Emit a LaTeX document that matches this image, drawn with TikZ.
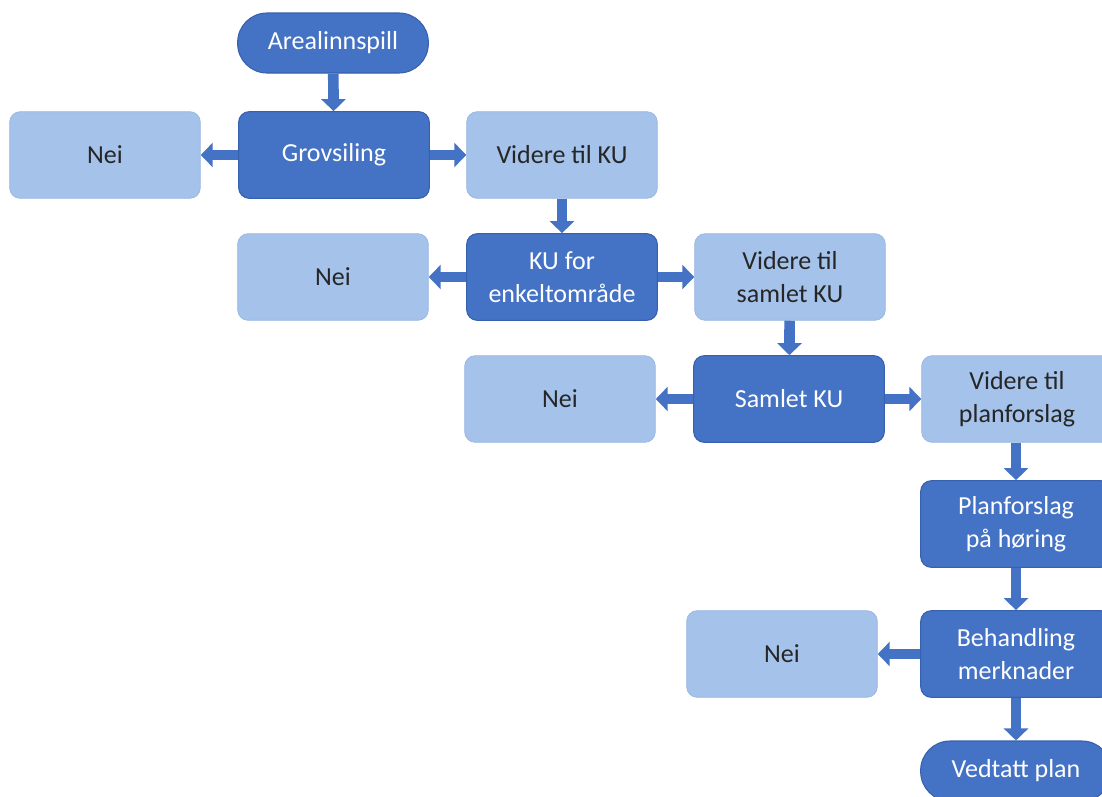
\documentclass[tikz,border=0pt]{standalone}
\usepackage{fontspec}
\setmainfont{Carlito}
\usetikzlibrary{arrows.meta}
\definecolor{dkblue}{HTML}{4472C4}
\definecolor{dkedge}{HTML}{3760AE}
\definecolor{ltblue}{HTML}{A4C2EA}
\definecolor{ltedge}{HTML}{9AB8E2}
\begin{document}
\begin{tikzpicture}[x=0.75pt,y=-0.75pt,
  box/.style={rounded corners=8pt,minimum width=143pt,minimum height=65pt,inner sep=0pt,align=center,font=\fontsize{19.5}{25}\selectfont},
  dark/.style={box,fill=dkblue,draw=dkedge,line width=0.8pt,text=white},
  light/.style={box,fill=ltblue,draw=ltedge,line width=0.6pt,text=black!85},
  pill/.style={dark,rounded corners=22pt,minimum height=45pt},
  flow/.style={draw=dkblue,line width=8pt,-{Triangle[width=18pt,length=9pt]}}]
\useasboundingbox (0,0) rectangle (1102,796);
\node[pill] (a) at (333,43) {Arealinnspill};
\node[dark] (g) at (334,155) {Grovsiling};
\node[light] (n1) at (105,155) {Nei};
\node[light] (v1) at (562,155) {Videre til KU};
\node[dark] (k) at (562,277) {KU for\\enkeltområde};
\node[light] (n2) at (333,277) {Nei};
\node[light] (v2) at (790,277) {Videre til\\samlet KU};
\node[dark] (s) at (789,399) {Samlet KU};
\node[light] (n3) at (560,399) {Nei};
\node[light] (v3) at (1017,399) {Videre til\\planforslag};
\node[dark] (p) at (1016,524) {Planforslag\\på høring};
\node[dark] (b) at (1016,654) {Behandling\\merknader};
\node[light] (n4) at (782,654) {Nei};
\node[pill] (e) at (1016,771) {Vedtatt plan};
\draw[flow] (a) -- (g);
\draw[flow] (g) -- (n1);
\draw[flow] (g) -- (v1);
\draw[flow] (v1) -- (k);
\draw[flow] (k) -- (n2);
\draw[flow] (k) -- (v2);
\draw[flow] (v2) -- (s);
\draw[flow] (s) -- (n3);
\draw[flow] (s) -- (v3);
\draw[flow] (v3.south -| p.north) -- (p);
\draw[flow] (p) -- (b);
\draw[flow] (b) -- (n4);
\draw[flow] (b) -- (e);
\end{tikzpicture}
\end{document}
